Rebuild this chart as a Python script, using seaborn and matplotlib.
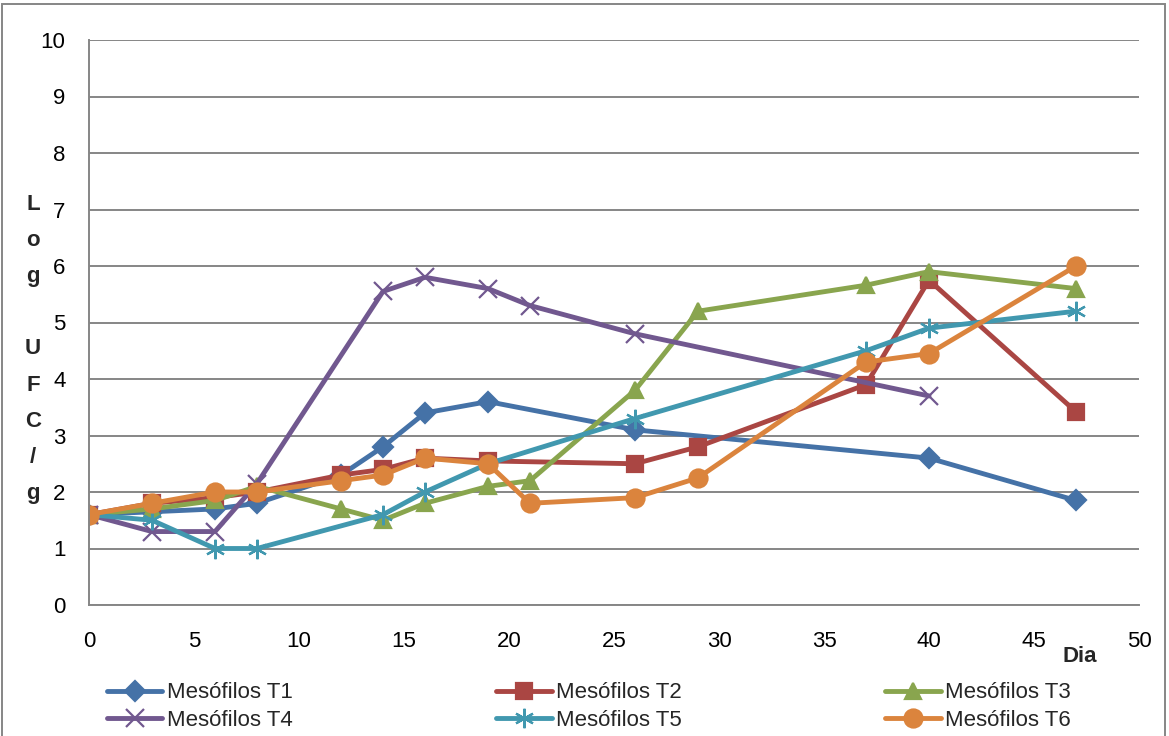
import matplotlib
matplotlib.use("Agg")
import matplotlib.pyplot as plt
import seaborn as sns
import pandas as pd
from matplotlib.patches import Rectangle

# ---- data ----
series_names = ["Mesófilos T1", "Mesófilos T2", "Mesófilos T3",
                "Mesófilos T4", "Mesófilos T5", "Mesófilos T6"]

t1_days = [0, 3, 6, 8, 12, 14, 16, 19, 26, 40, 47]
t1_vals = [1.6, 1.65, 1.7, 1.8, 2.3, 2.8, 3.4, 3.6, 3.1, 2.6, 1.85]

t2_days = [0, 3, 6, 8, 12, 14, 16, 19, 26, 29, 37, 40, 47]
t2_vals = [1.6, 1.8, 1.9, 2.0, 2.3, 2.4, 2.6, 2.55, 2.5, 2.8, 3.9, 5.75, 3.42]

t3_days = [0, 3, 6, 8, 12, 14, 16, 19, 21, 26, 29, 37, 40, 47]
t3_vals = [1.6, 1.7, 1.85, 2.1, 1.7, 1.5, 1.8, 2.1, 2.2, 3.8, 5.2, 5.66, 5.9, 5.6]

t4_days = [0, 3, 6, 8, 14, 16, 19, 21, 26, 40]
t4_vals = [1.6, 1.3, 1.3, 2.15, 5.55, 5.8, 5.6, 5.3, 4.8, 3.7]

t5_days = [0, 3, 6, 8, 14, 16, 19, 26, 37, 40, 47]
t5_vals = [1.6, 1.5, 1.0, 1.0, 1.6, 2.0, 2.5, 3.3, 4.5, 4.9, 5.2]

t6_days = [0, 3, 6, 8, 12, 14, 16, 19, 21, 26, 29, 37, 40, 47]
t6_vals = [1.6, 1.8, 2.0, 2.0, 2.2, 2.3, 2.6, 2.5, 1.8, 1.9, 2.25, 4.3, 4.45, 6.0]

x_ticks = [0, 5, 10, 15, 20, 25, 30, 35, 40, 45, 50]
y_ticks = [0, 1, 2, 3, 4, 5, 6, 7, 8, 9, 10]

all_days = [t1_days, t2_days, t3_days, t4_days, t5_days, t6_days]
all_vals = [t1_vals, t2_vals, t3_vals, t4_vals, t5_vals, t6_vals]

colors = ["#4572A7", "#AA4643", "#89A54E", "#71588F", "#4198AF", "#DB843D"]
markers = ["D", "s", "^", "x", (6, 2, 0), "o"]
msizes = [10, 11, 12, 13, 14, 13]

rows = []
for name, d, v in zip(series_names, all_days, all_vals):
    for dd, vv in zip(d, v):
        rows.append({"Dia": dd, "Valor": vv, "Serie": name})
df = pd.DataFrame(rows)

sns.set_theme(style="white")
plt.rcParams["font.family"] = ["Liberation Sans", "DejaVu Sans"]

fig = plt.figure(figsize=(11.69, 7.36), dpi=100)
ax = fig.add_axes([89 / 1169, 1 - 605 / 736, (1139 - 89) / 1169, (605 - 40) / 736])

handles = []
for name, col, mk, ms in zip(series_names, colors, markers, msizes):
    sub = df[df["Serie"] == name]
    sns.lineplot(data=sub, x="Dia", y="Valor", ax=ax, color=col, marker=mk,
                 markersize=ms, linewidth=3.5, mec=col, mfc=col, mew=1.6,
                 legend=False, errorbar=None)
    handles.append(ax.lines[-1])

ax.set_xlim(0, 50)
ax.set_ylim(0, 10)
ax.set_xticks(x_ticks)
ax.set_yticks(y_ticks)
ax.set_xlabel("")
ax.set_ylabel("")
ax.yaxis.grid(True, color="#868686", linewidth=1.4)
ax.xaxis.grid(False)
ax.set_axisbelow(True)
for s in ["top", "right"]:
    ax.spines[s].set_visible(False)
for s in ["left", "bottom"]:
    ax.spines[s].set_color("#868686")
    ax.spines[s].set_linewidth(1.4)
ax.tick_params(axis="both", which="major", direction="out", length=6,
               width=1.2, color="#868686", labelsize=16, labelcolor="black")
ax.tick_params(axis="x", pad=13)
ax.tick_params(axis="y", pad=11)
for lbl in ax.get_xticklabels() + ax.get_yticklabels():
    lbl.set_clip_on(False)

# stacked y label
fig.text(33 / 1169, 1 - 349 / 736, "L\no\ng\n\nU\nF\nC\n/\ng", ha="center",
         va="center", fontsize=16, fontweight="bold", linespacing=1.95)
fig.text(1080 / 1169, 1 - 657 / 736, "Dia", ha="center", va="center",
         fontsize=16, fontweight="bold")

order = [0, 3, 1, 4, 2, 5]
leg = fig.legend([handles[i] for i in order], [series_names[i] for i in order],
                 ncol=3, loc="lower left", bbox_to_anchor=(98 / 1169, -4 / 736),
                 frameon=False, fontsize=16, numpoints=1, handlelength=2.5,
                 columnspacing=9.15, handletextpad=0.2, labelspacing=0.3,
                 borderaxespad=0.0)

fig.patches.append(Rectangle((0.002, -0.01), 0.995, 1.005, transform=fig.transFigure,
                             fill=False, edgecolor="#868686", linewidth=1.4))

fig.savefig("out.png", dpi=100)
